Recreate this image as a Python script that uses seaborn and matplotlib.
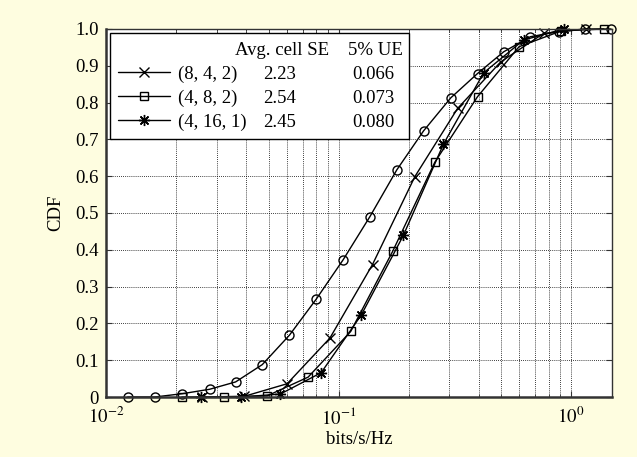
import numpy as np
import pandas as pd
import matplotlib
matplotlib.use("Agg")
import matplotlib.pyplot as plt
import seaborn as sns
from matplotlib.lines import Line2D
from matplotlib.ticker import FixedLocator, FuncFormatter, LogLocator, NullFormatter

# ---------------- data ----------------
circ_x = [0.0124, 0.0162, 0.0213, 0.0279, 0.0361, 0.047, 0.0615, 0.080, 0.1047, 0.1364,
          0.178, 0.232, 0.304, 0.396, 0.513, 0.668, 0.885, 1.148, 1.486]
circ_y = [0, 0, 0.009, 0.021, 0.041, 0.088, 0.168, 0.265, 0.373, 0.490,
          0.617, 0.723, 0.813, 0.879, 0.938, 0.979, 0.993, 1.0, 1.0]

x842_x = [0.0258, 0.0394, 0.0601, 0.0918, 0.140, 0.213, 0.325, 0.499, 0.762, 1.163]
x842_y = [0, 0.002, 0.036, 0.160, 0.360, 0.599, 0.784, 0.911, 0.988, 1.0]

sq482_x = [0.0212, 0.0323, 0.0493, 0.074, 0.1128, 0.171, 0.2595, 0.396, 0.598, 0.909, 1.38]
sq482_y = [0, 0, 0.003, 0.054, 0.178, 0.396, 0.638, 0.816, 0.952, 0.995, 1.0]

st4161_x = [0.0256, 0.0379, 0.0562, 0.0842, 0.1253, 0.190, 0.2826, 0.421, 0.625, 0.93]
st4161_y = [0, 0, 0.008, 0.066, 0.223, 0.439, 0.687, 0.881, 0.970, 1.0]

legend_labels = ["(8, 4, 2)", "(4, 8, 2)", "(4, 16, 1)"]
avg_cell_se = ["2.23", "2.54", "2.45"]
ue5 = ["0.066", "0.073", "0.080"]
col_headers = ["Avg. cell SE", "5% UE"]
y_ticks = [0, 0.1, 0.2, 0.3, 0.4, 0.5, 0.6, 0.7, 0.8, 0.9, 1.0]
x_ticks = [0.01, 0.1, 1.0]

# ---------------- style ----------------
sns.set_theme(style="white")
plt.rcParams["font.family"] = ["Liberation Serif", "DejaVu Serif"]
plt.rcParams["mathtext.fontset"] = "stix"
plt.rcParams["text.color"] = "black"
plt.rcParams["axes.labelcolor"] = "black"
plt.rcParams["legend.labelcolor"] = "black"
FS = 13.5

bg = "#FEFDE0"
fig = plt.figure(figsize=(6.37, 4.57), dpi=100, facecolor=bg)
ax = fig.add_axes([106 / 637, 1 - 397 / 457, 506 / 637, 368 / 457])
ax.set_facecolor("white")

common = dict(color="black", linewidth=1.0, markerfacecolor="none",
              markeredgecolor="black", markeredgewidth=1.0, clip_on=False,
              ax=ax, legend=False, sort=False, estimator=None)

sns.lineplot(x=circ_x, y=circ_y, marker="o", markersize=6.5, **common)
sns.lineplot(x=x842_x, y=x842_y, marker="x", markersize=6.5, **common)
sns.lineplot(x=sq482_x, y=sq482_y, marker="s", markersize=5.5, **common)
sns.lineplot(x=st4161_x, y=st4161_y, marker=(8, 2, 0), markersize=8, **common)

ax.set_xscale("log")
ax.set_xlim(0.01, 1.5)
ax.set_ylim(0, 1.0)

ax.xaxis.set_major_locator(FixedLocator(x_ticks))
ax.xaxis.set_major_formatter(FuncFormatter(lambda v, p: r"$10^{%d}$" % int(round(np.log10(v)))))
ax.xaxis.set_minor_locator(LogLocator(base=10, subs=np.arange(2, 10), numticks=20))
ax.xaxis.set_minor_formatter(NullFormatter())
ax.yaxis.set_major_locator(FixedLocator(y_ticks))
ax.yaxis.set_major_formatter(FuncFormatter(lambda v, p: "0" if abs(v) < 1e-9 else f"{v:.1f}"))

ax.grid(True, which="major", axis="both", color="black", linestyle=(0, (1, 1.5)), linewidth=0.6)
ax.grid(True, which="minor", axis="x", color="black", linestyle=(0, (1, 1.5)), linewidth=0.6)
ax.set_axisbelow(True)

ax.tick_params(which="both", direction="in", top=True, right=True, bottom=True, left=True,
               colors="#333333", labelcolor="black", labelsize=FS)
ax.tick_params(which="major", length=4, width=0.8, pad=5)
ax.tick_params(axis="x", which="major", pad=7)
ax.tick_params(which="minor", length=2.5, width=0.6)

for side in ["bottom", "left"]:
    ax.spines[side].set_linewidth(1.8)
    ax.spines[side].set_color("#333333")
for side in ["top", "right"]:
    ax.spines[side].set_linewidth(1.0)
    ax.spines[side].set_color("#333333")

ax.set_xlabel("bits/s/Hz", fontsize=FS, color="black", labelpad=2)
ax.set_ylabel("CDF", fontsize=FS, color="black", labelpad=8)

# ---------------- legend (table-like) ----------------
mk = ["x", "s", (8, 2, 0)]
ms = [6.5, 5.5, 8]
handles = [Line2D([], [], color="none")]
for m, s in zip(mk, ms):
    handles.append(Line2D([], [], color="black", linewidth=1.0, marker=m, markersize=s,
                          markerfacecolor="none", markeredgecolor="black"))
labels = [" "] + legend_labels
leg = ax.legend(handles, labels, loc="upper left", bbox_to_anchor=(0.008, 0.989, 0.591, 0.0),
                mode="expand", fontsize=FS, frameon=True, fancybox=False, framealpha=1,
                edgecolor="black", borderpad=0.45, labelspacing=0.36, handlelength=2.75,
                handletextpad=0.4, borderaxespad=0.0, labelcolor="black")
leg.get_frame().set_linewidth(1.0)

fig.canvas.draw()
inv = ax.transAxes.inverted()
rows_y = []
for t in leg.get_texts():
    bb = t.get_window_extent()
    rows_y.append(inv.transform(((bb.x0 + bb.x1) / 2, (bb.y0 + bb.y1) / 2))[1])

ax.text(0.348, rows_y[0], col_headers[0], transform=ax.transAxes, ha="center", va="center",
        fontsize=FS, color="black", zorder=10)
ax.text(0.532, rows_y[0], col_headers[1], transform=ax.transAxes, ha="center", va="center",
        fontsize=FS, color="black", zorder=10)
for i in range(3):
    ax.text(0.310, rows_y[i + 1], avg_cell_se[i], transform=ax.transAxes, ha="left", va="center",
            fontsize=FS, color="black", zorder=10)
    ax.text(0.529, rows_y[i + 1], ue5[i], transform=ax.transAxes, ha="center", va="center",
            fontsize=FS, color="black", zorder=10)

fig.savefig("out.png", dpi=100, facecolor=bg)
